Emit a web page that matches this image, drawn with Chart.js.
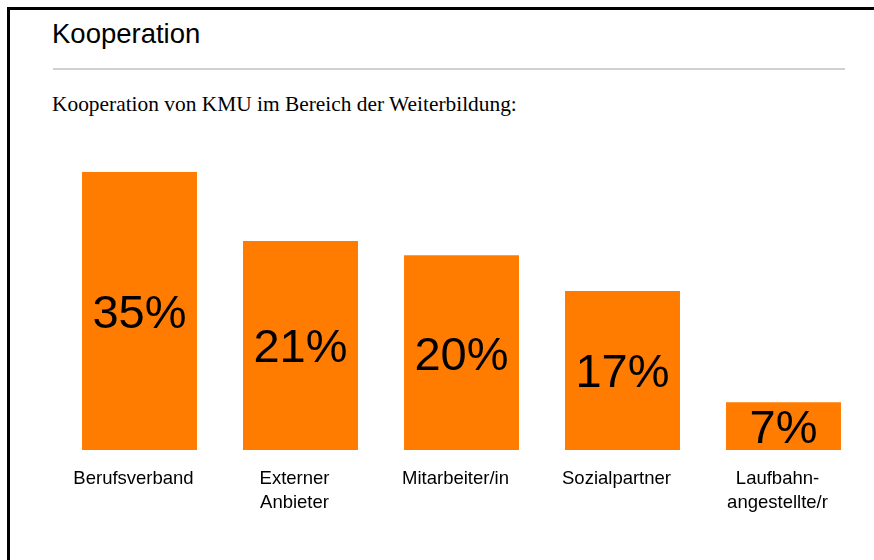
<!DOCTYPE html>
<html>
<head>
<meta charset="utf-8">
<title>Kooperation</title>
<script src="https://cdn.jsdelivr.net/npm/chart.js@4"></script>
<style>
	html, body { margin: 0; padding: 0; background: #fff; }
	body { width: 874px; height: 560px; position: relative; overflow: hidden; }
	#frame {
		position: absolute; left: 7px; top: 7px; right: 0; bottom: 0;
		border-top: 3px solid #000; border-left: 3px solid #000;
	}
	#title {
		position: absolute; left: 52px; top: 19.5px;
		font: 27.5px "Liberation Sans", Arial, sans-serif; line-height: 1; color: #000;
	}
	#rule {
		position: absolute; left: 53px; top: 68px; width: 792px; height: 0;
		border-top: 2px solid #d0d0d0;
	}
	#subtitle {
		position: absolute; left: 52px; top: 94px; white-space: nowrap;
		font: 21.4px "Liberation Serif", "Times New Roman", serif; line-height: 1; color: #000;
	}
	#mycanvas { position: absolute; left: 0; top: 150px; }
</style>
</head>
<body>
<div id="frame"></div>
<div id="title">Kooperation</div>
<div id="rule"></div>
<div id="subtitle">Kooperation von KMU im Bereich der Weiterbildung:</div>
<canvas id="mycanvas" width="874" height="410"></canvas>

<script>
	// categories and the percentages printed in the bars
	var categories = ['Berufsverband', ['Externer', 'Anbieter'], 'Mitarbeiter/in', 'Sozialpartner', ['Laufbahn-', 'angestellte/r']];
	var percents = [35, 21, 20, 17, 7];
	// bar heights as drawn in the picture (the original bars are not to scale)
	var barHeights = [35, 26.3, 24.5, 20.0, 6.0];

	// writes the percentage in the middle of each bar
	var valueLabels = {
		id: 'valueLabels',
		afterDatasetsDraw: function(chart) {
			var ctx = chart.ctx;
			var meta = chart.getDatasetMeta(0);
			ctx.save();
			ctx.font = '47px "Liberation Sans", Arial, sans-serif';
			ctx.fillStyle = '#000';
			ctx.textAlign = 'center';
			ctx.textBaseline = 'alphabetic';
			meta.data.forEach(function(bar, i) {
				var mid = (bar.y + bar.base) / 2;
				ctx.fillText(percents[i] + '%', bar.x, mid + 17);
			});
			ctx.restore();
		}
	};

	var chartdata = {
		labels: categories,
		datasets: [
			{
				label: 'Kooperation',
				data: barHeights,
				backgroundColor: '#ff7c00',
				borderWidth: 0,
				barPercentage: 0.714,
				categoryPercentage: 1
			}
		]
	};

	var ctx = document.getElementById('mycanvas');

	var barGraph = new Chart(ctx, {
		type: 'bar',
		data: chartdata,
		plugins: [valueLabels],
		options: {
			responsive: false,
			animation: false,
			layout: { padding: { left: 59, right: 10, top: 21.7, bottom: 0 } },
			plugins: {
				legend: { display: false },
				tooltip: { enabled: false }
			},
			scales: {
				y: { display: false, min: 0, max: 35 },
				x: {
					grid: { display: false, drawTicks: false },
					border: { display: false },
					ticks: {
						color: '#000',
						padding: 17,
						labelOffset: -6,
						maxRotation: 0,
						autoSkip: false,
						font: { family: '"Liberation Sans", Arial, sans-serif', size: 18.5, lineHeight: '24px' }
					},
					afterFit: function(scale) { scale.height = 110; }
				}
			}
		}
	});
</script>
</body>
</html>
